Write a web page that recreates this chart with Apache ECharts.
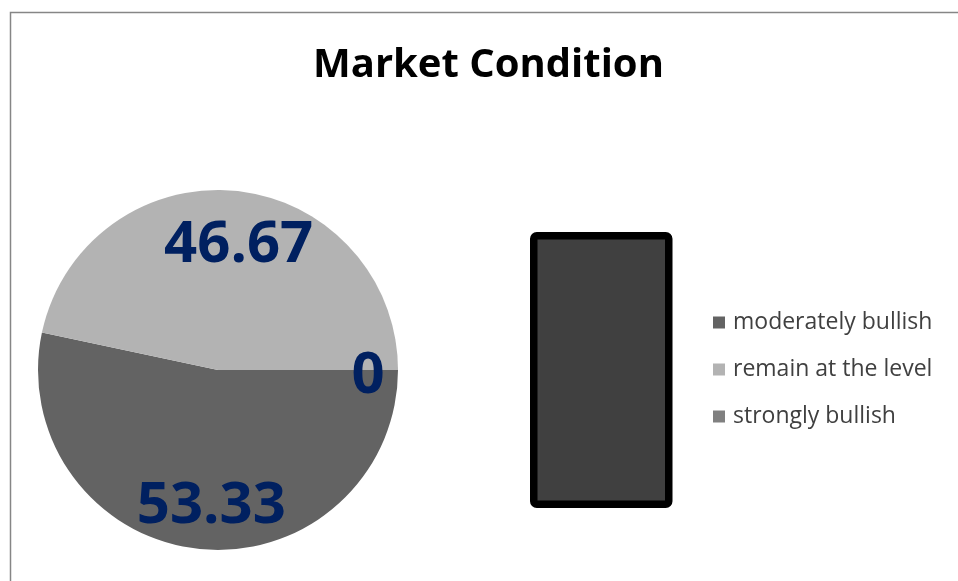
<!DOCTYPE html>
<html>
<head>
<meta charset="utf-8">
<script src="https://cdn.jsdelivr.net/npm/echarts@6/dist/echarts.min.js"></script>
<style>
html,body{margin:0;padding:0;background:#fff;}
#c{width:958px;height:581px;}
</style>
</head>
<body>
<div id="c"></div>
<script>
const titleText = 'Market Condition';
const categories = ['moderately bullish', 'remain at the level', 'strongly bullish'];
const values = [53.33, 46.67, 0];
const colors = ['#636363', '#b3b3b3', '#808080'];

const chart = echarts.init(document.getElementById('c'), null, {renderer: 'canvas'});
const pieData = categories.map((n, i) => ({name: n, value: values[i], itemStyle: {color: colors[i]}}));
const labelData = categories.map((n, i) => ({name: n, value: values[i]}));

chart.setOption({
  animation: false,
  backgroundColor: '#fff',
  title: {
    text: titleText,
    left: 308,
    top: 41,
    textStyle: {fontFamily: 'Open Sans', fontWeight: 'bold', fontSize: 40, color: '#000'}
  },
  legend: {
    orient: 'vertical',
    left: 708,
    top: 306,
    itemWidth: 12,
    itemHeight: 12,
    itemGap: 24,
    icon: 'rect',
    data: categories,
    textStyle: {fontFamily: 'Open Sans', fontSize: 23, color: '#404040', padding: [0, 0, 0, 3]}
  },
  graphic: [
    {type: 'rect', left: 8, top: 10, shape: {width: 960, height: 580}, style: {fill: 'none', stroke: '#868686', lineWidth: 1.5}, silent: true},
    {type: 'rect', left: 530, top: 232, shape: {width: 135, height: 268.5, r: 3}, style: {fill: '#404040', stroke: '#000', lineWidth: 7.5}, silent: true}
  ],
  series: [
    {
      type: 'pie',
      center: [218, 370],
      radius: [0, 180],
      startAngle: 0,
      clockwise: true,
      label: {show: false},
      labelLine: {show: false},
      emphasis: {disabled: true},
      data: pieData
    },
    {
      type: 'pie',
      center: [218, 370],
      radius: [76, 180],
      startAngle: 0,
      clockwise: true,
      silent: true,
      itemStyle: {color: 'rgba(0,0,0,0)'},
      label: {
        show: true,
        position: 'inside',
        formatter: '{c}',
        fontFamily: 'Open Sans',
        fontWeight: 'bold',
        fontSize: 58,
        color: '#002060'
      },
      labelLayout: function (p) { return p.dataIndex === 2 ? {dx: 19, dy: 6} : {dx: 7, dy: 6}; },
      labelLine: {show: false},
      emphasis: {disabled: true},
      legendHoverLink: false,
      data: labelData
    }
  ]
});
</script>
</body>
</html>
